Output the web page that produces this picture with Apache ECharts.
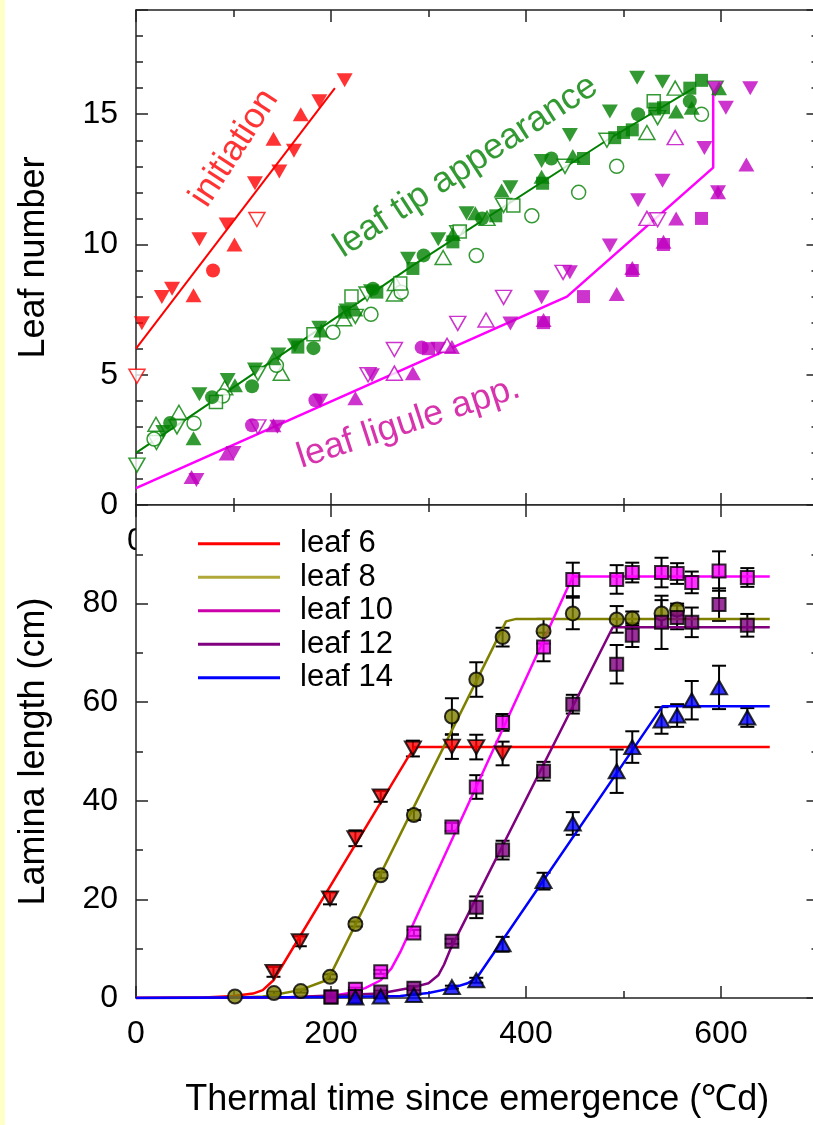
<!DOCTYPE html>
<html><head><meta charset="utf-8">
<script src="https://cdn.jsdelivr.net/npm/echarts@6/dist/echarts.min.js"></script>
<style>
html,body{margin:0;padding:0;background:#fff;}
#strip{position:absolute;left:0;top:0;width:5px;height:1125px;background:#ffffc8;}
#chart{position:absolute;left:0;top:0;width:813px;height:1125px;}
</style></head><body>
<div id="strip"></div><div id="chart"></div>
<script>
const FONT = '"Liberation Sans", Arial, Helvetica, sans-serif';

// ---------- tick labels ----------
const xTickLabels = [0, 200, 400, 600];
const leafNumberTicks = [0, 5, 10, 15];
const laminaTicks = [0, 20, 40, 60, 80];

// ---------- top panel: leaf number vs thermal time ----------
const initiationLine = [[0, 6.0], [204, 16.0]];
const initiationDownFilled = [[6,6.98],[26.5,7.98],[37,8.3],[65,10.2],[93,10.77],[122,12.35],[147,12.8],[162,13.6],[188,15.5],[214,16.3]];
const initiationUpFilled = [[59,8.05],[101,10.0],[141,14.06],[169,15.0]];
const initiationCircleFilled = [[79,9.0]];
const initiationDownOpen = [[1,4.94],[124,10.96]];

const tipLine = [[0,2.0],[107,4.7],[284,9.2],[483,14.0],[572,16.0]];
const tipDownFilled = [[28,2.8],[65,4.25],[94,4.8],[122,5.2],[146,5.78],[163,6.13],[188,6.8],[216,7.47],[241,8.2],[279,9.45],[310,10.2],[339,11.2],[384,12.2],[416,13.2],[445,14.2],[486,15.1],[514,16.4],[540,16.25]];
const tipUpFilled = [[59,2.56],[101.5,4.6],[141,5.63],[190,6.7],[225,7.5],[325,10.4],[348,11.2],[375,12.07],[416,12.6],[448,13.4],[554,15.1],[570,15.25],[598,16.0]];
const tipCircleFilled = [[35,3.15],[78,4.14],[119,4.56],[182,6.02],[243,8.3],[295,9.58],[355,11.0],[426,13.3],[515,15.0],[568,15.5]];
const tipSquareFilled = [[166,6.06],[214,7.4],[247,8.17],[284,9.08],[325,10.1],[369,11.1],[417,12.35],[459,13.3],[491,14.1],[500,14.3],[509,14.4],[532,15.2],[541,15.25],[568,16.0],[580,16.3]];
const tipDownOpen = [[1,1.53],[21,2.4],[42,3.0],[125,5.05],[225,7.24],[237,8.1],[330,10.45],[377,11.5],[440,13.0],[483,14.0],[535,14.87],[594,16.0]];
const tipUpOpen = [[20.5,3.1],[44,3.56],[91,4.5],[149,5.06],[213,7.15],[265,8.1],[266,8.5],[315,9.5],[360,11.0],[524,14.3],[553,16.0]];
const tipCircleOpen = [[18.5,2.53],[59.5,3.14],[89,4.18],[144,5.36],[202,6.63],[241,7.32],[272,8.17],[349,9.58],[406,11.1],[454,12.0],[493,13.0],[580,15.0]];
const tipSquareOpen = [[82,3.95],[182,6.55],[221,8.0],[271,8.5],[332,10.5],[387,11.5],[531,15.5]];

const liguleLine = [[0,0.65],[442,8.0],[592,12.95],[592,16.0]];
const liguleDownFilled = [[62,0.96],[100,2.0],[145,3.0],[189,4.0],[242,4.98],[310,6.0],[384,6.97],[416,7.97],[445,8.93],[486,9.96],[515,11.7],[540,12.45],[583,13.7],[594,16.0],[597,12.0],[605,15.25],[630,16.0]];
const liguleUpFilled = [[57,1.07],[93,1.98],[141,3.06],[225,4.1],[284,5.06],[324,6.06],[418,7.1],[493,8.1],[509,9.1],[541,10.1],[554,11.0],[597,12.0],[626,13.07]];
const liguleCircleFilled = [[119,3.06],[184,4.02],[293,6.05]];
const liguleSquareFilled = [[300,6.0],[418,7.0],[459,8.0],[509,9.0],[541,10.0],[580,11.0]];
const liguleDownOpen = [[125,3.0],[238,5.0],[265,5.97],[330,6.97],[377,7.97],[438,8.93],[535,10.95]];
const liguleUpOpen = [[265,5.06],[319,6.13],[359,7.1],[524,11.0],[553,14.1]];

// ---------- bottom panel: lamina length (x, y, ±error) ----------
const leafNames = ['leaf 6', 'leaf 8', 'leaf 10', 'leaf 12', 'leaf 14'];
const leaf6Line = [[0,0],[70,0.1],[100,0.4],[120,0.9],[130,1.6],[141,3.6],[278,48.5],[286,50.9],[650,50.9]];
const leaf6Pts = [[141,5.3,1.0],[168,11.5,1.0],[199,20.2,1.2],[225,32.4,1.6],[251,40.9,1.1],[284,50.6,1.6],[324,51.0,2.5],[349,50.9,2.5],[376,49.6,2.4]];
const leaf8Line = [[0,0],[100,0.05],[130,0.3],[141,0.6],[168,1.6],[194,3.5],[202,5.7],[379.5,76.4],[390,76.9],[650,76.9]];
const leaf8Pts = [[101.5,0.3,0],[141.5,1.0,0.3],[169,1.4,0.3],[199,4.3,0.5],[225,15.0,0.5],[251,24.9,0.6],[285,37.1,1.0],[324,57.1,3.7],[349,64.6,3.5],[376,73.2,1.9],[418,74.4,2.5],[448,78.0,3.2],[493,76.8,2.7],[509,77.0,1.4],[539,78.0,2.7],[555,78.8,1.2]];
const leaf10Line = [[0,0],[150,0.1],[200,0.4],[219,1.0],[235,2.0],[251,3.6],[262,6.0],[271,9.3],[448,85.5],[650,85.5]];
const leaf10Pts = [[200,0.2,0],[225,1.8,0.3],[251,5.3,0.4],[285,13.2,0.6],[324,34.7,0.8],[349,42.8,2.4],[376,55.9,1.7],[418,71.2,2.9],[448,84.9,3.4],[493,84.9,2.9],[509,86.3,2.0],[539,86.3,3.0],[555,86.1,2.1],[570,84.3,2.2],[598,86.6,4.0],[627,85.3,1.9]];
const leaf12Line = [[0,0],[150,0.1],[250,0.9],[285,2.2],[300,3.0],[310,4.6],[316,6.8],[322,9.7],[489,75.2],[650,75.2]];
const leaf12Pts = [[200,0.2,0],[225,0.3,0],[251,1.2,0.3],[285,2.0,0.4],[324,11.5,0.5],[349,18.4,2.2],[376,30.0,1.9],[418,46.0,1.9],[448,59.6,1.9],[493,67.7,3.9],[509,73.6,2.4],[539,76.2,5.4],[555,77.2,2.4],[570,76.2,3.0],[598,79.8,3.3],[627,75.6,2.3]];
const leaf14Line = [[0,0],[200,0.2],[271,0.4],[300,1.0],[324,2.0],[340,3.0],[350,4.2],[540,59.2],[650,59.2]];
const leaf14Pts = [[225,0.1,0],[251,0.3,0],[285,0.6,0],[324,2.2,0.3],[349,3.6,0.5],[376,10.9,1.5],[418,23.7,1.7],[448,35.4,2.3],[493,46.0,4.4],[509,50.9,3.2],[539,56.3,2.7],[555,57.3,2.3],[570,60.4,3.9],[598,63.0,4.4],[627,56.9,1.9]];

// ---------- styling ----------
const RED = '#ff0000', GREEN = '#008000', MAG = '#c000c0', MAGLINE = '#ff00ff';

function axisPair(grid, position, min, max, major, minor, labelCfg, nameCfg) {
  const z = grid === 1 ? 3 : 0;
  const maj = Object.assign({
    type: 'value', gridIndex: grid, position, min, max, interval: major, z,
    axisLine: { show: true, onZero: false, lineStyle: { color: '#222', width: 1.5 } },
    axisTick: { show: true, inside: true, length: 12, lineStyle: { color: '#222', width: 1.5 } },
    splitLine: { show: false },
    axisLabel: labelCfg ? Object.assign({ show: true, color: '#000', fontSize: 32, fontFamily: FONT }, labelCfg) : { show: false }
  }, nameCfg || {});
  const mn = {
    type: 'value', gridIndex: grid, position, min, max, interval: minor, z,
    axisLine: { show: false, onZero: false },
    axisTick: { show: true, inside: true, length: 7, lineStyle: { color: '#222', width: 1.5 } },
    splitLine: { show: false }, axisLabel: { show: false }
  };
  return [maj, mn];
}
const nameStyle = { fontSize: 36, color: '#000', fontFamily: FONT };

const xAxes = [].concat(
  axisPair(0, 'bottom', 0, 700, 200, 100, { margin: 20, formatter: v => xTickLabels.includes(v) ? String(v) : '' }),
  axisPair(0, 'top', 0, 700, 200, 100),
  axisPair(1, 'bottom', 0, 700, 200, 100, { margin: 20, formatter: v => xTickLabels.includes(v) ? String(v) : '' },
    { name: 'Thermal time since emergence (\u2103d)', nameLocation: 'middle', nameGap: 84, nameTextStyle: nameStyle }),
  axisPair(1, 'top', 0, 700, 200, 100)
);
const yAxes = [].concat(
  axisPair(0, 'left', 0, 19, 5, 1, { margin: 18, formatter: v => leafNumberTicks.includes(v) ? String(v) : '' },
    { name: 'Leaf number', nameLocation: 'middle', nameRotate: 90, nameGap: 84, nameTextStyle: nameStyle }),
  axisPair(0, 'right', 0, 19, 5, 1),
  axisPair(1, 'left', 0, 100, 20, 10, { margin: 18, formatter: v => laminaTicks.includes(v) ? String(v) : '' },
    { name: 'Lamina length (cm)', nameLocation: 'middle', nameRotate: 90, nameGap: 84, nameTextStyle: nameStyle }),
  axisPair(1, 'right', 0, 100, 20, 10)
);

function topPts(data, color, shape, filled, down) {
  return {
    type: 'scatter', xAxisIndex: 0, yAxisIndex: 0, data, silent: true, z: 3,
    symbol: shape, symbolRotate: down ? 180 : 0,
    symbolSize: shape === 'triangle' ? [16, 14] : (shape === 'circle' ? 14 : 13),
    itemStyle: filled ? { color, borderWidth: 0 } : { color: '#fff', borderColor: color, borderWidth: 1.5 }
  };
}
function topLine(data, color, width) {
  return { type: 'line', xAxisIndex: 0, yAxisIndex: 0, data, symbol: 'none', silent: true, z: 2,
    lineStyle: { color, width } };
}
function annot(x, y, text, color, rotate) {
  return { type: 'scatter', xAxisIndex: 0, yAxisIndex: 0, symbolSize: 0, silent: true, z: 4,
    data: [[x, y]],
    label: { show: true, position: 'inside', formatter: text, rotate, color, fontSize: 36, fontFamily: FONT } };
}

function errRender(params, api) {
  const x = api.value(0), y = api.value(1), e = api.value(2);
  if (!e) return null;
  const t = api.coord([x, y + e]), b = api.coord([x, y - e]);
  const hw = 7, st = { stroke: '#000', lineWidth: 2 };
  return { type: 'group', children: [
    { type: 'line', shape: { x1: t[0], y1: t[1], x2: b[0], y2: b[1] }, style: st },
    { type: 'line', shape: { x1: t[0] - hw, y1: t[1], x2: t[0] + hw, y2: t[1] }, style: st },
    { type: 'line', shape: { x1: b[0] - hw, y1: b[1], x2: b[0] + hw, y2: b[1] }, style: st }
  ] };
}
function leafSeries(name, lineData, ptsData, color, shape, down) {
  return [
    { type: 'line', name, xAxisIndex: 4, yAxisIndex: 4, data: lineData, symbol: 'none', silent: true, z: 4,
      lineStyle: { color, width: 2.5 }, itemStyle: { color } },
    { type: 'custom', name: name + ' sd', xAxisIndex: 4, yAxisIndex: 4, data: ptsData, renderItem: errRender,
      encode: { x: 0, y: 1 }, silent: true, z: 4 },
    { type: 'scatter', name: name + ' obs', xAxisIndex: 4, yAxisIndex: 4, data: ptsData, silent: true, z: 10,
      symbol: shape, symbolRotate: down ? 180 : 0,
      symbolSize: shape === 'triangle' ? [16, 14] : (shape === 'circle' ? 14 : 13),
      itemStyle: { color, borderColor: '#000', borderWidth: 2 } }
  ];
}

const series = [
  topLine(initiationLine, RED, 2),
  topLine(tipLine, GREEN, 2),
  topLine(liguleLine, MAGLINE, 2.5),
  topPts(initiationDownFilled, RED, 'triangle', true, true),
  topPts(initiationUpFilled, RED, 'triangle', true, false),
  topPts(initiationCircleFilled, RED, 'circle', true, false),
  topPts(initiationDownOpen, RED, 'triangle', false, true),
  topPts(tipDownOpen, GREEN, 'triangle', false, true),
  topPts(tipUpOpen, GREEN, 'triangle', false, false),
  topPts(tipCircleOpen, GREEN, 'circle', false, false),
  topPts(tipSquareOpen, GREEN, 'rect', false, false),
  topPts(tipDownFilled, GREEN, 'triangle', true, true),
  topPts(tipUpFilled, GREEN, 'triangle', true, false),
  topPts(tipCircleFilled, GREEN, 'circle', true, false),
  topPts(tipSquareFilled, GREEN, 'rect', true, false),
  topPts(liguleDownOpen, MAG, 'triangle', false, true),
  topPts(liguleUpOpen, MAG, 'triangle', false, false),
  topPts(liguleDownFilled, MAG, 'triangle', true, true),
  topPts(liguleUpFilled, MAG, 'triangle', true, false),
  topPts(liguleCircleFilled, MAG, 'circle', true, false),
  topPts(liguleSquareFilled, MAG, 'rect', true, false),
  annot(101, 13.7, 'initiation', RED, 57),
  annot(338.5, 13.0, 'leaf tip appearance', GREEN, 33),
  annot(279.5, 3.16, 'leaf ligule app.', '#cc0099', 18)
].concat(
  leafSeries(leafNames[0], leaf6Line, leaf6Pts, '#ff0000', 'triangle', true),
  leafSeries(leafNames[1], leaf8Line, leaf8Pts, '#808000', 'circle', false),
  leafSeries(leafNames[2], leaf10Line, leaf10Pts, '#ff00ff', 'rect', false),
  leafSeries(leafNames[3], leaf12Line, leaf12Pts, '#800080', 'rect', false),
  leafSeries(leafNames[4], leaf14Line, leaf14Pts, '#0000ff', 'triangle', false)
);

const legendColors = ['#ff0000', '#b0a838', '#cc00aa', '#800080', '#0000ff'];

const chart = echarts.init(document.getElementById('chart'), null, { renderer: 'canvas' });
chart.setOption({
  animation: false,
  grid: [
    { left: 136, top: 10, width: 682.5, height: 495, show: false, outerBoundsMode: 'none', containLabel: false },
    { left: 136, top: 505, width: 682.5, height: 493, show: true, backgroundColor: '#fff', borderWidth: 0, z: 1,
      outerBoundsMode: 'none', containLabel: false }
  ],
  legend: {
    data: leafNames.map((n, i) => ({ name: n, itemStyle: { color: legendColors[i] } })),
    orient: 'vertical', left: 198, top: 527, padding: 0, itemGap: 0,
    icon: 'rect', itemWidth: 82, itemHeight: 3, selectedMode: false,
    textStyle: { fontSize: 31, lineHeight: 33.5, color: '#000', fontFamily: FONT, padding: [0, 0, 0, 15] }
  },
  xAxis: xAxes,
  yAxis: yAxes,
  series
});
</script></body></html>
